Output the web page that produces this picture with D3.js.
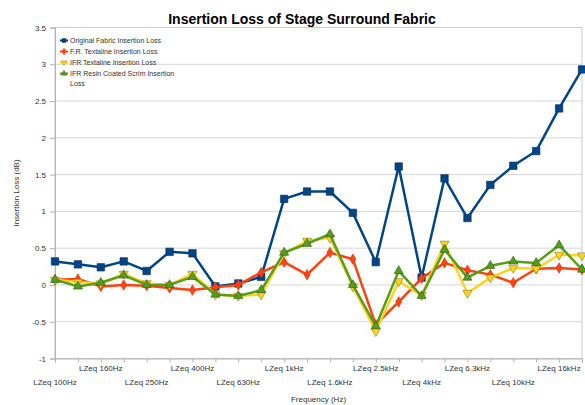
<!DOCTYPE html>
<html>
<head>
<meta charset="utf-8">
<script src="https://cdn.jsdelivr.net/npm/d3@7"></script>
<style>
  body { margin: 0; background: #fff; }
  text { font-family: "Liberation Sans", Arial, sans-serif; }
</style>
</head>
<body>
<svg id="chart" width="585" height="405"></svg>
<script>
var categories = ["LZeq 100Hz", "LZeq 125Hz", "LZeq 160Hz", "LZeq 200Hz", "LZeq 250Hz", "LZeq 315Hz",
  "LZeq 400Hz", "LZeq 500Hz", "LZeq 630Hz", "LZeq 800Hz", "LZeq 1kHz", "LZeq 1.25kHz",
  "LZeq 1.6kHz", "LZeq 2kHz", "LZeq 2.5kHz", "LZeq 3.15kHz", "LZeq 4kHz", "LZeq 5kHz",
  "LZeq 6.3kHz", "LZeq 8kHz", "LZeq 10kHz", "LZeq 12.5kHz", "LZeq 16kHz", "LZeq 20kHz"];

var originalFabric = [0.32, 0.28, 0.24, 0.32, 0.19, 0.45, 0.43, -0.02, 0.02, 0.11, 1.17, 1.27,
  1.27, 0.98, 0.31, 1.61, 0.10, 1.45, 0.91, 1.36, 1.62, 1.82, 2.40, 2.93];
var frTextaline = [0.07, 0.08, -0.02, 0.00, -0.01, -0.04, -0.07, -0.03, 0.00, 0.17, 0.31, 0.14,
  0.44, 0.35, -0.54, -0.23, 0.09, 0.30, 0.20, 0.14, 0.03, 0.22, 0.23, 0.21];
var ifrTextaline = [0.07, 0.04, 0.02, 0.15, 0.02, 0.00, 0.15, -0.13, -0.15, -0.13, 0.43, 0.60,
  0.64, -0.02, -0.63, 0.05, -0.14, 0.56, -0.11, 0.10, 0.23, 0.22, 0.41, 0.40];
var ifrResinScrim = [0.07, -0.02, 0.03, 0.13, 0.00, 0.00, 0.11, -0.13, -0.15, -0.07, 0.44, 0.56,
  0.69, 0.00, -0.56, 0.19, -0.15, 0.48, 0.10, 0.26, 0.32, 0.30, 0.54, 0.21];

var yTicks = [-1, -0.5, 0, 0.5, 1, 1.5, 2, 2.5, 3, 3.5];

var series = [
  { name: "Original Fabric Insertion Loss", values: originalFabric, color: "#004586", stroke: "#0a2f55", shape: "square" },
  { name: "F.R. Textaline Insertion Loss", values: frTextaline, color: "#ff420e", stroke: "#d23a12", shape: "diamond" },
  { name: "IFR Textaline Insertion Loss", values: ifrTextaline, color: "#ffd320", stroke: "#8a7a20", shape: "down" },
  { name: "IFR Resin Coated Scrim Insertion Loss", values: ifrResinScrim, color: "#579d1c", stroke: "#2f5a10", shape: "up" }
];

var svg = d3.select("#chart");
var plotLeft = 55, plotRight = 582, plotTop = 27.5, plotBottom = 358.5;

var x = d3.scalePoint().domain(categories).range([plotLeft, plotRight]);
var y = d3.scaleLinear().domain([-1, 3.5]).range([plotBottom, plotTop]);

// grid
svg.append("g")
  .selectAll("line")
  .data(yTicks)
  .enter()
  .append("line")
  .attr("x1", plotLeft)
  .attr("x2", plotRight)
  .attr("y1", function(d) { return y(d); })
  .attr("y2", function(d) { return y(d); })
  .attr("stroke", "#d6d6d6")
  .attr("stroke-width", 1);

svg.append("rect")
  .attr("x", plotLeft)
  .attr("y", plotTop)
  .attr("width", plotRight - plotLeft)
  .attr("height", plotBottom - plotTop)
  .attr("fill", "none")
  .attr("stroke", "#cccccc");

// y axis
var yAxis = svg.append("g")
  .attr("transform", "translate(" + plotLeft + ",0)")
  .call(d3.axisLeft(y).tickValues(yTicks).tickSize(5).tickPadding(4).tickFormat(function(d) { return String(d); }));
yAxis.select(".domain").attr("stroke", "#b3b3b3");
yAxis.selectAll(".tick line").attr("stroke", "#b3b3b3");
yAxis.selectAll("text").attr("font-size", 8).attr("fill", "#333");

// x axis, labels staggered in two rows
var xAxis = svg.append("g")
  .attr("transform", "translate(0," + plotBottom + ")")
  .call(d3.axisBottom(x).tickSize(4).tickFormat(""));
xAxis.select(".domain").attr("stroke", "#b3b3b3");
xAxis.selectAll(".tick line").attr("stroke", "#b3b3b3");

svg.append("g")
  .selectAll("text")
  .data(categories.filter(function(d, i) { return i % 2 === 0; }))
  .enter()
  .append("text")
  .attr("x", function(d) { return x(d); })
  .attr("y", function(d, i) { return i % 2 === 0 ? 385 : 371; })
  .attr("text-anchor", "middle")
  .attr("font-size", 8)
  .attr("fill", "#333")
  .text(function(d) { return d; });

svg.append("text")
  .attr("x", (plotLeft + plotRight) / 2)
  .attr("y", 402)
  .attr("text-anchor", "middle")
  .attr("font-size", 8)
  .attr("fill", "#333")
  .text("Frequency (Hz)");

svg.append("text")
  .attr("transform", "translate(19," + y(1.25) + ") rotate(-90)")
  .attr("text-anchor", "middle")
  .attr("font-size", 8)
  .attr("fill", "#333")
  .text("Insertion Loss (dB)");

svg.append("text")
  .attr("x", 302)
  .attr("y", 24)
  .attr("text-anchor", "middle")
  .attr("font-size", 14)
  .attr("font-weight", "bold")
  .attr("fill", "#000")
  .text("Insertion Loss of Stage Surround Fabric");

function symbolType(shape) {
  if (shape === "square") return d3.symbolSquare;
  if (shape === "diamond") return d3.symbolDiamond;
  return d3.symbolTriangle;
}

function markerPath(shape) {
  if (shape === "square") return d3.symbol().type(d3.symbolSquare).size(56)();
  if (shape === "diamond") return d3.symbol().type(d3.symbolDiamond).size(32)();
  return d3.symbol().type(d3.symbolTriangle).size(36)();
}

var line = d3.line()
  .x(function(d, i) { return x(categories[i]); })
  .y(function(d) { return y(d); });

series.forEach(function(s) {
  var g = svg.append("g");
  g.append("path")
    .datum(s.values)
    .attr("d", line)
    .attr("fill", "none")
    .attr("stroke", s.color)
    .attr("stroke-width", 2.5)
    .attr("stroke-linejoin", "round");
  g.selectAll("path.marker")
    .data(s.values)
    .enter()
    .append("path")
    .attr("class", "marker")
    .attr("d", markerPath(s.shape))
    .attr("transform", function(d, i) {
      return "translate(" + x(categories[i]) + "," + y(d) + ")" + (s.shape === "down" ? " rotate(180)" : "");
    })
    .attr("fill", s.color)
    .attr("stroke", s.stroke)
    .attr("stroke-width", 0.6);
});

// legend
var legendRows = [40.5, 51.5, 62.5, 73.5];
var legend = svg.append("g");
series.forEach(function(s, i) {
  var ly = legendRows[i];
  legend.append("line")
    .attr("x1", 60).attr("x2", 68)
    .attr("y1", ly).attr("y2", ly)
    .attr("stroke", s.color).attr("stroke-width", 2);
  legend.append("path")
    .attr("d", d3.symbol().type(symbolType(s.shape)).size(s.shape === "square" ? 16 : 14)())
    .attr("transform", "translate(64," + ly + ")" + (s.shape === "down" ? " rotate(180)" : ""))
    .attr("fill", s.color)
    .attr("stroke", s.stroke)
    .attr("stroke-width", 0.4);
  var t = legend.append("text")
    .attr("x", 70)
    .attr("y", ly + 2.5)
    .attr("font-size", 7)
    .attr("fill", "#333");
  if (i === 3) {
    t.text("IFR Resin Coated Scrim Insertion");
    legend.append("text")
      .attr("x", 70).attr("y", ly + 12)
      .attr("font-size", 7).attr("fill", "#333")
      .text("Loss");
  } else {
    t.text(s.name);
  }
});
</script>
</body>
</html>
